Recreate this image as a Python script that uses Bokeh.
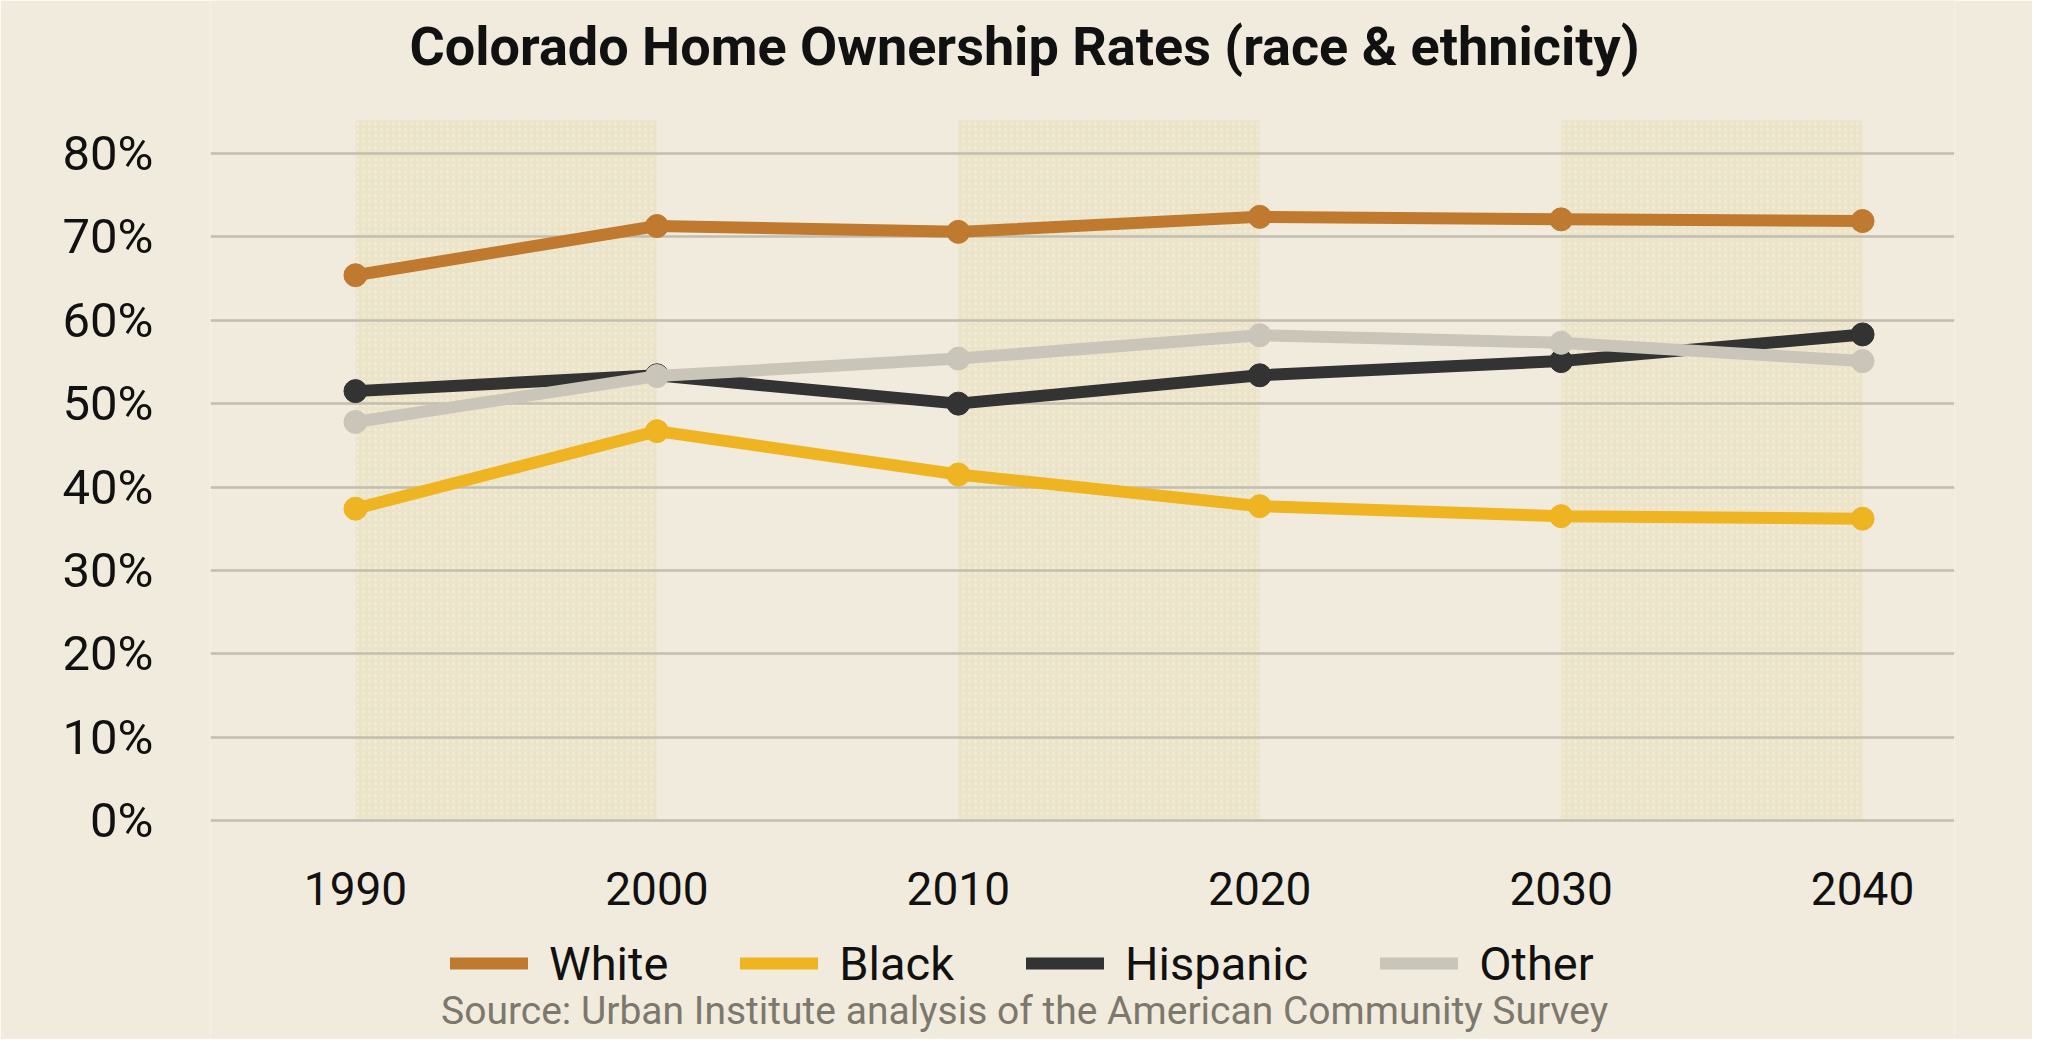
from bokeh.plotting import figure
from bokeh.models import (FixedTicker, PrintfTickFormatter, Legend, LegendItem,
                          Label, Range1d)
from bokeh.core.properties import value
from bokeh.embed import file_html
from bokeh.resources import INLINE

# ---- data ----
years = [1990, 2000, 2010, 2020, 2030, 2040]
x_tick_labels = ["1990", "2000", "2010", "2020", "2030", "2040"]
white = [65.4, 71.3, 70.6, 72.4, 72.1, 71.9]
black = [37.4, 46.7, 41.5, 37.7, 36.5, 36.2]
hispanic = [51.5, 53.4, 50.0, 53.4, 55.1, 58.3]
other = [47.8, 53.3, 55.4, 58.2, 57.3, 55.1]
series_names = ["White", "Black", "Hispanic", "Other"]
y_ticks = [0, 10, 20, 30, 40, 50, 60, 70, 80]
band_start = [1990, 2010, 2030]
band_end = [2000, 2020, 2040]

title_text = "Colorado Home Ownership Rates (race & ethnicity)"
source_text = "Source: Urban Institute analysis of the American Community Survey"

# ---- style ----
BG = "#f0ebdd"
colors = ["#bf7a30", "#efb422", "#333333", "#c9c5b9"]
FONT = "Roboto"

W, H = 2032, 1039
FRAME_L, FRAME_R = 210, 78
PX_PER_PCT = 8.3375
ZERO_Y = 820  # pixel row of 0%
y_lo = -(H - ZERO_Y) / PX_PER_PCT
y_hi = ZERO_Y / PX_PER_PCT

p = figure(frame_width=W - FRAME_L - FRAME_R, frame_height=H,
           min_border_left=FRAME_L, min_border_right=FRAME_R,
           min_border_top=0, min_border_bottom=0,
           x_range=Range1d(1985.19, 2043.05), y_range=Range1d(y_lo, y_hi),
           x_axis_location=None,
           output_backend="svg", toolbar_location=None)
p.background_fill_color = BG
p.border_fill_color = BG
p.outline_line_color = None

# shaded decade bands
bands = p.quad(left=band_start, right=band_end, bottom=0, top=84,
               fill_color="#ece4c9", line_color=None,
               hatch_pattern="dot", hatch_color="#f4efdf", hatch_scale=6,
               hatch_alpha=0.7, hatch_weight=1)
bands.level = "image"

# grid
p.xgrid.grid_line_color = None
p.ygrid.grid_line_color = "#c2bdaf"
p.ygrid.grid_line_width = 2.5

# y axis
p.yaxis.ticker = FixedTicker(ticks=y_ticks)
p.yaxis.formatter = PrintfTickFormatter(format="%d%%")
p.yaxis.axis_line_color = None
p.yaxis.major_tick_line_color = None
p.yaxis.minor_tick_line_color = None
p.yaxis.major_label_text_font = FONT
p.yaxis.major_label_text_font_size = "49px"
p.yaxis.major_label_text_color = "#111111"
p.yaxis.major_label_standoff = 51

# x tick labels (years)
p.text(x=years, y=[-(888 - ZERO_Y) / PX_PER_PCT] * len(years), text=x_tick_labels,
       text_font=value(FONT), text_font_size="46px", text_align="center",
       text_baseline="middle", text_color="#111111")

# series
items = []
for name, vals, col in zip(series_names, [white, black, hispanic, other], colors):
    r = p.line(years, vals, line_width=12, line_color=col,
               line_cap="round", line_join="round")
    p.scatter(years, vals, size=23, fill_color=col, line_color=col)
    items.append(LegendItem(label=name, renderers=[r]))

legend = Legend(items=items, orientation="horizontal", location=(240, 48),
                background_fill_alpha=0, border_line_color=None,
                padding=0, margin=0, glyph_width=78, glyph_height=56,
                label_height=56, label_standoff=21, spacing=72,
                label_text_font=FONT, label_text_font_size="47px",
                label_text_color="#111111")
p.add_layout(legend)

title_x = 1985.19 + (1024 - FRAME_L) / 30.14
p.add_layout(Label(x=title_x, y=(ZERO_Y - 46) / PX_PER_PCT, text=title_text,
                   text_align="center", text_baseline="middle", text_font=FONT,
                   text_font_size="54px", text_font_style="bold",
                   text_color="#111111"))
p.add_layout(Label(x=title_x, y=(ZERO_Y - 1010) / PX_PER_PCT, text=source_text,
                   text_align="center", text_baseline="middle", text_font=FONT,
                   text_font_size="39px", text_color="#7d786d"))

open("out.html", "w").write(file_html(p, INLINE))
